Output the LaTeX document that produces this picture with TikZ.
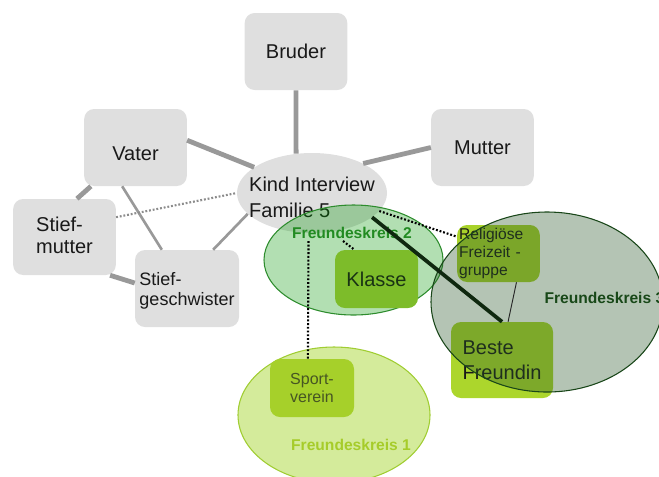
\documentclass[tikz,border=0pt]{standalone}
\usepackage{fontspec}
\setmainfont{Liberation Sans}
\usetikzlibrary{shapes.geometric}

\definecolor{boxgray}{RGB}{223,223,223}
\definecolor{linegray}{RGB}{153,153,153}
\definecolor{dotgray}{RGB}{140,140,140}
\definecolor{fktwofill}{RGB}{0,150,0}
\definecolor{fktwoline}{RGB}{45,140,45}
\definecolor{fktwotext}{RGB}{34,139,34}
\definecolor{fkthreefill}{RGB}{40,86,40}
\definecolor{fkthreeline}{RGB}{25,70,25}
\definecolor{fkthreetext}{RGB}{24,72,24}
\definecolor{fkonefill}{RGB}{212,235,155}
\definecolor{fkoneline}{RGB}{160,205,50}
\definecolor{fkonetext}{RGB}{166,204,42}
\definecolor{klassefill}{RGB}{125,188,42}
\definecolor{klassetext}{RGB}{25,50,20}
\definecolor{sportfill}{RGB}{166,208,42}
\definecolor{sporttext}{RGB}{70,85,35}
\definecolor{relfill}{RGB}{168,210,42}
\definecolor{bffill}{RGB}{172,214,44}
\definecolor{bestline}{RGB}{15,40,15}

\begin{document}
\begin{tikzpicture}[x=0.75pt,y=-0.75pt,
  txtbig/.style={font=\fontsize{15}{18}\selectfont},
  txtmid/.style={font=\fontsize{13.5}{15}\selectfont},
  txtsmall/.style={font=\fontsize{11.7}{13.5}\selectfont},
  fambox/.style={fill=boxgray, rounded corners=7.5pt, inner sep=0pt,
    align=left, text=black!90},
  bigsize/.style={minimum width=77pt, minimum height=57.75pt},
  greenbox/.style={rounded corners=7.5pt, inner sep=0pt, align=left},
  ringshape/.style={ellipse, inner sep=0pt},
  famline/.style={draw=linegray, line width=3.6pt},
  famthin/.style={draw=linegray, line width=2pt},
  graydots/.style={draw=dotgray, line width=1.6pt, dash pattern=on 1.4pt off 1.4pt},
  blackdots/.style={draw=black, line width=1.6pt, dash pattern=on 1.4pt off 1.4pt},
  fklabel/.style={font=\bfseries\fontsize{11.7}{13.5}\selectfont, inner sep=1pt}
]
\useasboundingbox (0,0) rectangle (659,476);
\clip (0,0) rectangle (659,476);

% family members
\node[fambox, bigsize, txtbig] (bruder) at (296,51.5) {Bruder};
\node[fambox, bigsize, txtbig] (mutter) at (482.5,147.5) {Mutter};
\node[fambox, bigsize, txtbig, text height=18.75pt, text depth=0pt] (vater) at (135.5,147.5) {Vater};
\node[fambox, bigsize, minimum height=57pt, text height=24pt, text depth=0pt,
      font=\fontsize{15}{16.5}\selectfont] (sm) at (64.5,237) {Stief-\\mutter};
\node[fambox, bigsize, minimum width=78pt, txtmid, text height=26.2pt, text depth=0pt] (sg) at (187,288.5) {Stief-\\geschwister};

% the interviewed child
\node[ringshape, fill=boxgray, minimum width=112.5pt, minimum height=60pt] (kind) at (312,193) {};
\node[font=\fontsize{15}{19.5}\selectfont, align=left, text=black!90] (kindtxt) at (312,197) {Kind Interview\\Familie 5};

% family connectors
\draw[famline] (bruder.south) -- (kind.112);
\draw[famline] (mutter.west) -- (kind.30);
\draw[famline] (vater.8) -- (kind.156);
\draw[famline] (vater.221) -- (sm.72);
\draw[famthin] (vater.251) -- (sg.123);
\draw[famline] (sm.-40) -- (sg.174);
\draw[famthin] (sg.56) -- (kind.198);
\draw[graydots] (sm.21) -- (kind.180);

% circle of friends 2
\node[ringshape, fill=fktwofill, fill opacity=0.3, draw=fktwoline, line width=0.8pt,
      minimum width=134.25pt, minimum height=82.5pt] (fk2) at (353.5,260) {};
\node[fklabel, text=fktwotext] (lbl2) at (352,233) {Freundeskreis 2};
\node[greenbox, fill=klassefill, text=klassetext, txtbig,
      minimum width=62.25pt, minimum height=43.5pt] (klasse) at (376.5,279) {Klasse};

% circle of friends 1
\node[ringshape, fill=fkonefill, draw=fkoneline, line width=0.8pt,
      minimum width=144pt, minimum height=102pt] (fk1) at (334,415) {};
\node[greenbox, fill=sportfill, text=sporttext, font=\fontsize{12}{14}\selectfont,
      minimum width=63pt, minimum height=43.5pt] (sv) at (312,388) {Sport-\\verein};
\node[fklabel, text=fkonetext] (lbl1) at (351,445) {Freundeskreis 1};

% circle of friends 3
\node[greenbox, fill=relfill, text=black!90, txtsmall, inner xsep=1.5pt,
      text width=59pt, minimum height=42.75pt] (rel) at (498.5,253.5) {Religiöse\\Freizeit -\\gruppe};
\node[greenbox, fill=bffill, text=black!90, font=\fontsize{15}{18.75}\selectfont,
      minimum width=76.5pt, minimum height=57pt] (bf) at (502,360) {Beste\\Freundin};
\node[ringshape, fill=fkthreefill, fill opacity=0.35, draw=fkthreeline, line width=0.8pt,
      minimum width=174pt, minimum height=135pt] (fk3) at (547,302) {};
\node[fklabel, text=fkthreetext, anchor=west] (lbl3) at (543,298) {Freundeskreis 3};

% friendship connectors
\coordinate (kstart) at (343,241);
\coordinate (sstart) at (308.5,241);
\draw[blackdots] (kind.-15) -- (rel.158);
\draw[blackdots] (kstart) -- (klasse.127);
\draw[blackdots] (sstart) -- (sv.98);
\draw[draw=bestline, line width=2.8pt] (kind.-22) -- (bf.north);
\draw[draw=black!85, line width=0.7pt] (rel.-58) -- (bf.81);
\end{tikzpicture}
\end{document}
